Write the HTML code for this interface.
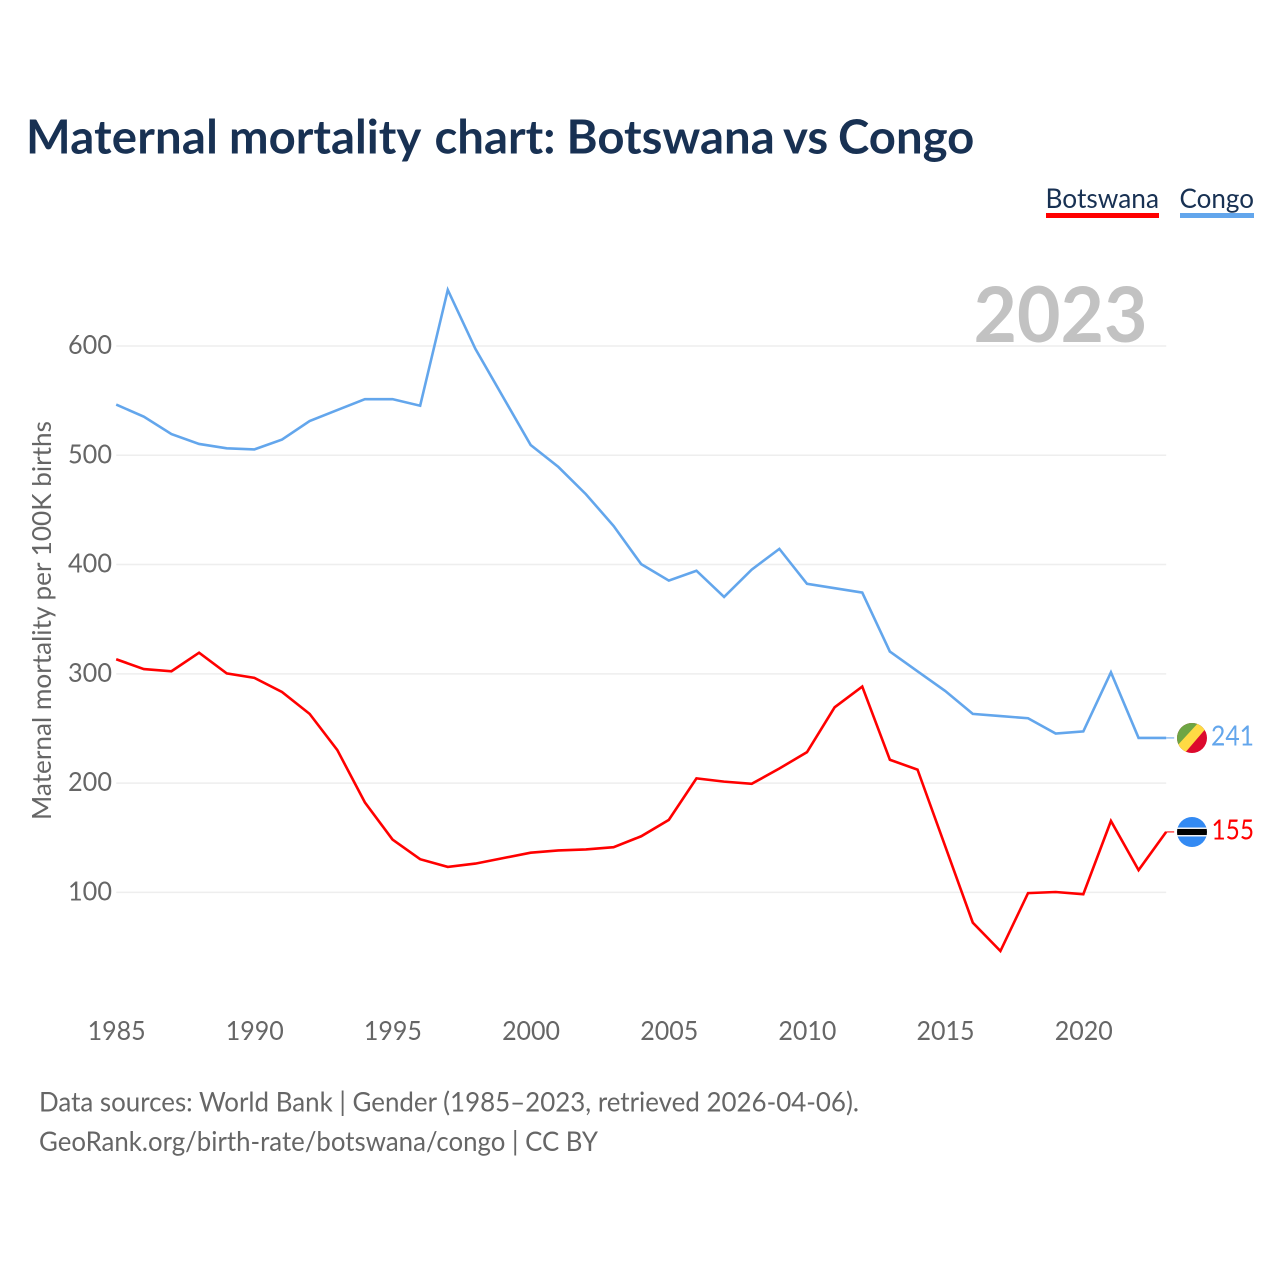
<!DOCTYPE html>
<html lang="en">
<head>
<meta charset="utf-8">
<title>Maternal mortality chart: Botswana vs Congo</title>
<style>
html,body{margin:0;padding:0;background:#fff;}
svg{display:block;font-family:"Lato","Carlito","Liberation Sans",sans-serif;}
</style>
</head>
<body>
<svg id="chart" xmlns="http://www.w3.org/2000/svg" width="1280" height="1280" viewBox="0 0 1280 1280">
  <rect width="1280" height="1280" fill="#ffffff"/>
  <text y="153.5" font-size="47.3" font-weight="700" fill="#183153"><tspan x="26" letter-spacing="0.2">Maternal</tspan> <tspan x="229">mortality</tspan> <tspan x="434.5">chart:</tspan> <tspan x="566.5">Botswana</tspan> <tspan x="783">vs</tspan> <tspan x="838">Congo</tspan></text>

  <g>
    <g>
      <text x="1045.5" y="208" font-size="27" fill="#183153" textLength="113.5" lengthAdjust="spacingAndGlyphs">Botswana</text>
      <rect x="1046" y="213" width="113" height="5" fill="#ff0000"/>
    </g>
    <g>
      <text x="1179.5" y="208" font-size="27" fill="#183153" textLength="74.5" lengthAdjust="spacingAndGlyphs">Congo</text>
      <rect x="1180" y="213" width="74" height="5" fill="#63a6ec"/>
    </g>
  </g>

  <text x="973.5" y="342" font-size="77" font-weight="700" fill="#c2c2c2" textLength="174" lengthAdjust="spacingAndGlyphs">2023</text>

  <g id="grid"></g>
  <g id="y-ticks"></g>
  <g id="x-ticks"></g>
  <text transform="translate(51 820) rotate(-90)" x="0" y="0" font-size="26" fill="#666666" textLength="399" lengthAdjust="spacingAndGlyphs">Maternal mortality per 100K births</text>
  <g id="series"></g>

  <g id="flag-congo">
    <clipPath id="clip-congo"><circle cx="1192" cy="738" r="15"/></clipPath>
    <g clip-path="url(#clip-congo)">
      <rect x="1176" y="722" width="32" height="32" fill="#dc0a2d"/>
      <polygon points="1176,722 1208,722 1176,754" fill="#6da544"/>
      <polygon points="1199,722 1208,722 1208,726 1184,754 1176,754 1176,747" fill="#ffda44"/>
    </g>
  </g>
  <g id="flag-botswana">
    <clipPath id="clip-bw"><circle cx="1192" cy="832" r="15"/></clipPath>
    <g clip-path="url(#clip-bw)">
      <rect x="1176" y="816" width="32" height="32" fill="#338af3"/>
      <rect x="1176" y="827.5" width="32" height="9" fill="#f0f0f0"/>
      <rect x="1176" y="829" width="32" height="6" fill="#000000"/>
    </g>
  </g>

  <g id="end-labels"></g>

  <g>
    <text x="39" y="1111.5" font-size="27.5" fill="#666666" textLength="820" lengthAdjust="spacingAndGlyphs">Data sources: World Bank | Gender (1985–2023, retrieved 2026-04-06).</text>
    <text x="39" y="1151" font-size="27.5" fill="#666666" textLength="559" lengthAdjust="spacingAndGlyphs">GeoRank.org/birth-rate/botswana/congo | CC BY</text>
  </g>
</svg>
<script>
const years = [1985,1986,1987,1988,1989,1990,1991,1992,1993,1994,1995,1996,1997,1998,1999,2000,2001,2002,2003,2004,2005,2006,2007,2008,2009,2010,2011,2012,2013,2014,2015,2016,2017,2018,2019,2020,2021,2022,2023];
const botswanaValues = [314,305,303,320,301,297,284,264,231,183,149,131,124,127,132,137,139,140,142,152,167,205,202,200,214,229,270,289,222,213,143,73,47,100,101,99,166,121,156];
const congoValues = [547,536,520,511,507,506,515,532,542,552,552,546,652,598,554,510,490,465,436,401,386,395,371,396,415,383,379,375,321,303,285,264,262,260,246,248,302,242,242];
const botswanaEndLabel = '155';
const congoEndLabel = '241';
const yTickValues = [100,200,300,400,500,600];
const xTickYears = [1985,1990,1995,2000,2005,2010,2015,2020];

const NS = 'http://www.w3.org/2000/svg';
function xScale(year){ return 116.2 + (year - 1985) * (1166.2 - 116.2) / (2023 - 1985); }
function yScale(value){ return 892.4 - (value - 100) * (892.4 - 346) / 500; }
function lineY(value){ return yScale(value) + 0.7; }

const gridGroup = document.getElementById('grid');
const yTickGroup = document.getElementById('y-ticks');
const xTickGroup = document.getElementById('x-ticks');
const seriesGroup = document.getElementById('series');
const endGroup = document.getElementById('end-labels');

yTickValues.forEach(function(v){
  const line = document.createElementNS(NS, 'line');
  
  
  line.setAttribute('x1', xScale(1985));
  line.setAttribute('x2', xScale(2023));
  line.setAttribute('y1', yScale(v));
  line.setAttribute('y2', yScale(v));
  line.setAttribute('stroke', '#eeeeee');
  line.setAttribute('stroke-width', '1.5');
  gridGroup.appendChild(line);

  const label = document.createElementNS(NS, 'text');
  
  
  label.setAttribute('x', 112);
  label.setAttribute('y', yScale(v) + 8);
  label.setAttribute('text-anchor', 'end');
  label.setAttribute('font-size', '26');
  label.setAttribute('fill', '#666666');
  label.setAttribute('textLength', '44');
  label.setAttribute('lengthAdjust', 'spacingAndGlyphs');
  label.textContent = v;
  yTickGroup.appendChild(label);
});

xTickYears.forEach(function(y){
  const label = document.createElementNS(NS, 'text');
  
  
  label.setAttribute('x', xScale(y) - 28.6);
  label.setAttribute('y', 1040);
  label.setAttribute('font-size', '26.5');
  label.setAttribute('fill', '#666666');
  label.setAttribute('textLength', '58');
  label.setAttribute('lengthAdjust', 'spacingAndGlyphs');
  label.textContent = y;
  xTickGroup.appendChild(label);
});

function drawSeries(name, values, color, endLabel, labelX, labelW, labelDy){
  const pts = values.map(function(v, i){ return xScale(years[i]).toFixed(2) + ',' + lineY(v).toFixed(2); }).join(' ');
  const line = document.createElementNS(NS, 'polyline');
  
  
  line.setAttribute('points', pts);
  line.setAttribute('fill', 'none');
  line.setAttribute('stroke', color);
  line.setAttribute('stroke-width', '2.6');
  line.setAttribute('stroke-linejoin', 'miter');
  seriesGroup.appendChild(line);

  const ly = lineY(values[values.length - 1]);
  const lead = document.createElementNS(NS, 'line');
  
  
  lead.setAttribute('x1', xScale(2023));
  lead.setAttribute('x2', xScale(2023) + 8);
  lead.setAttribute('y1', ly);
  lead.setAttribute('y2', ly);
  lead.setAttribute('stroke', color);
  lead.setAttribute('stroke-width', '1.3');
  lead.setAttribute('opacity', '0.8');
  seriesGroup.appendChild(lead);

  const label = document.createElementNS(NS, 'text');
  
  
  label.setAttribute('x', labelX);
  label.setAttribute('y', ly + labelDy);
  label.setAttribute('font-size', '28.5');
  label.setAttribute('fill', color);
  label.setAttribute('textLength', labelW);
  label.setAttribute('lengthAdjust', 'spacingAndGlyphs');
  label.textContent = endLabel;
  endGroup.appendChild(label);
}

drawSeries('botswana', botswanaValues, '#ff0000', botswanaEndLabel, 1211.5, 42.5, 7.5);
drawSeries('congo', congoValues, '#63a6ec', congoEndLabel, 1211, 43, 7.5);
</script>
</body>
</html>
